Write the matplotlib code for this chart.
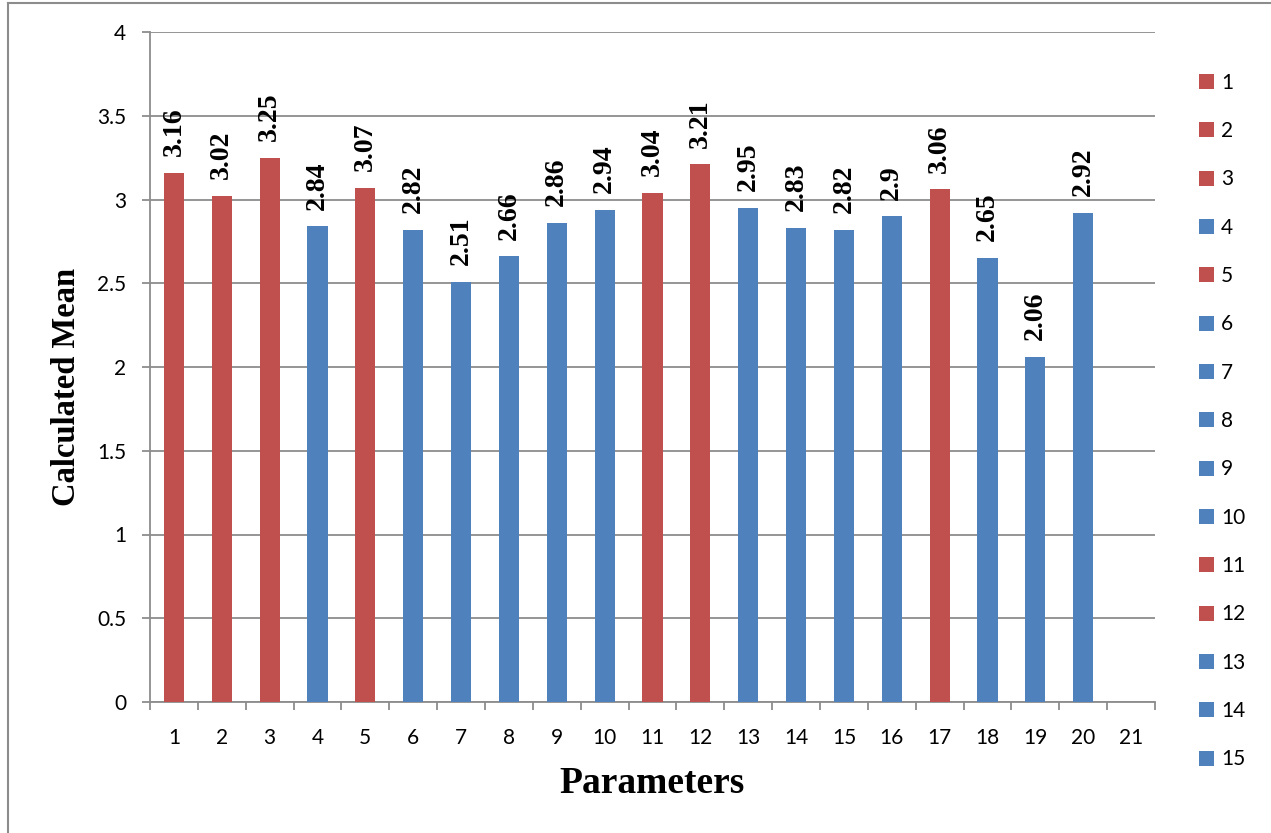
import numpy as np
import matplotlib.pyplot as plt
from matplotlib.patches import Patch
from matplotlib.ticker import MultipleLocator

# calculated mean per parameter (parameter 21 has no value)
params = list(range(1, 22))
means = [3.16, 3.02, 3.25, 2.84, 3.07, 2.82, 2.51, 2.66, 2.86, 2.94,
         3.04, 3.21, 2.95, 2.83, 2.82, 2.90, 3.06, 2.65, 2.06, 2.92]
mean_labels = ["3.16", "3.02", "3.25", "2.84", "3.07", "2.82", "2.51", "2.66", "2.86", "2.94",
               "3.04", "3.21", "2.95", "2.83", "2.82", "2.9", "3.06", "2.65", "2.06", "2.92"]
high_params = [1, 2, 3, 5, 11, 12, 17]
legend_names = [str(i) for i in range(1, 16)]

RED = "#C0504D"
BLUE = "#4F81BD"
GRID = "#8C8C8C"

colors = [RED if p in high_params else BLUE for p in params[:len(means)]]

fig = plt.figure(figsize=(12.71, 8.33), dpi=100)
ax = fig.add_axes([150 / 1271, 1 - 702 / 833, (1155 - 150) / 1271, (702 - 32) / 833])

x = np.array(params[:len(means)])
bars = ax.bar(x, means, width=0.42, color=colors, zorder=3)

for xi, v, lab in zip(x, means, mean_labels):
    ax.annotate(lab, (xi, v), xytext=(0, 12), textcoords="offset points",
                rotation=90, ha="center", va="bottom",
                family="Liberation Serif", fontweight="bold", fontsize=20)

ax.set_xlim(0.5, 21.5)
ax.set_ylim(0, 4)
ax.yaxis.set_major_locator(MultipleLocator(0.5))
ax.set_yticklabels([f"{t:g}" for t in ax.get_yticks()])
ax.grid(axis="y", color=GRID, linewidth=1.3, zorder=0)

ax.set_xticks(params)
ax.set_xticklabels([str(p) for p in params])
ax.set_xticks(np.arange(0.5, 22, 1), minor=True)
ax.tick_params(axis="x", which="major", length=0, pad=19)
ax.tick_params(axis="x", which="minor", length=6, color=GRID, width=1.3)
ax.tick_params(axis="y", length=6, color=GRID, width=1.3, pad=11)
for lbl in ax.get_xticklabels() + ax.get_yticklabels():
    lbl.set_family("Lato")
    lbl.set_fontsize(15)

for side in ["top", "right"]:
    ax.spines[side].set_visible(False)
for side in ["left", "bottom"]:
    ax.spines[side].set_color(GRID)
    ax.spines[side].set_linewidth(1.3)

ax.set_xlabel("Parameters", family="Liberation Serif", fontweight="bold", fontsize=27, labelpad=13)
ax.set_ylabel("Calculated Mean", family="Liberation Serif", fontweight="bold", fontsize=23.5,
              labelpad=11, y=0.47)

handles = [Patch(facecolor=c) for c in colors[:len(legend_names)]]
fig.legend(handles, legend_names, loc="upper left", bbox_to_anchor=(1180 / 1271, 1 - 54 / 833),
           frameon=False, handlelength=0.72, handleheight=0.72, handletextpad=0.35,
           labelspacing=1.36, prop={"family": "Lato", "size": 15})

# outer chart border
fig.add_artist(plt.Line2D([8 / 1271, 8 / 1271], [0, 1 - 3 / 833], color=GRID, linewidth=1.5))
fig.add_artist(plt.Line2D([8 / 1271, 1], [1 - 3 / 833, 1 - 3 / 833], color=GRID, linewidth=1.5))

fig.savefig("out.png", dpi=100)
